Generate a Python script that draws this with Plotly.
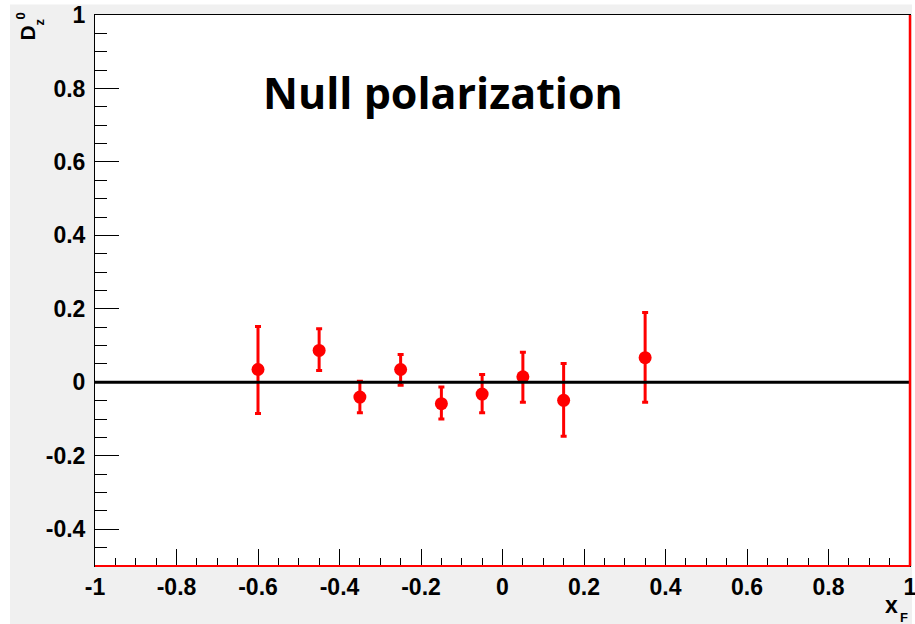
import plotly.graph_objects as go

# Data
xf = [-0.6, -0.45, -0.35, -0.25, -0.15, -0.05, 0.05, 0.15, 0.35]
dz0 = [0.035, 0.087, -0.040, 0.035, -0.058, -0.032, 0.015, -0.049, 0.067]
err_up = [0.117, 0.059, 0.043, 0.041, 0.045, 0.053, 0.067, 0.100, 0.123]
err_down = [0.120, 0.055, 0.043, 0.043, 0.042, 0.051, 0.069, 0.098, 0.121]

x_tickvals = [-1, -0.8, -0.6, -0.4, -0.2, 0, 0.2, 0.4, 0.6, 0.8, 1]
x_ticktext = ["-1", "-0.8", "-0.6", "-0.4", "-0.2", "0", "0.2", "0.4", "0.6", "0.8", "1"]
y_tickvals = [-0.4, -0.2, 0, 0.2, 0.4, 0.6, 0.8, 1]
y_ticktext = ["-0.4", "-0.2", "0", "0.2", "0.4", "0.6", "0.8", "1"]

RED = "#ff0000"
GRAY = "#f0f0f0"
tick_font = dict(family="Liberation Sans", size=23, color="black", weight="bold")

PW, PH = 815, 551.5  # plot area size in px
L, T = 95, 14.5      # plot area origin


def px(xp):
    return (xp - L) / PW


def py(yp):
    return (T + PH - yp) / PH


fig = go.Figure()

fig.add_trace(go.Scatter(
    x=xf, y=dz0, mode="markers",
    marker=dict(color=RED, size=13, symbol="circle"),
    error_y=dict(type="data", symmetric=False, array=err_up, arrayminus=err_down,
                 color=RED, thickness=3, width=3),
    showlegend=False,
))

shapes = [
    dict(type="rect", xref="paper", yref="paper", x0=px(10), x1=px(912),
         y0=py(630), y1=py(4), fillcolor=GRAY, line=dict(width=0), layer="below"),
    dict(type="rect", xref="paper", yref="paper", x0=0, x1=1, y0=0, y1=1,
         fillcolor="white", line=dict(width=0), layer="below"),
    dict(type="line", xref="x", yref="y", x0=-1, x1=1, y0=0, y1=0,
         line=dict(color="black", width=3)),
    dict(type="line", xref="paper", yref="paper", x0=0, x1=1, y0=0, y1=0,
         line=dict(color=RED, width=2)),
    dict(type="line", xref="paper", yref="paper", x0=1, x1=1, y0=0, y1=1,
         line=dict(color=RED, width=2.5)),
]


def ann(text, xp, yp, size, family="Liberation Sans", angle=0):
    return dict(text=text, xref="paper", yref="paper", x=px(xp), y=py(yp),
                xanchor="center", yanchor="middle", showarrow=False, textangle=angle,
                font=dict(family=family, size=size, color="black"))


annotations = [
    ann("<b>Null polarization</b>", 443, 92, 43, family="Open Sans"),
    ann("<b>D</b>", 27, 33, 21, angle=-90),
    ann("<b>0</b>", 20, 16, 13, angle=-90),
    ann("<b>z</b>", 39, 21, 13, angle=-90),
    ann("<b>x</b>", 891, 605, 23),
    ann("<b>F</b>", 904, 618, 13),
]

fig.update_layout(
    width=915, height=624,
    margin=dict(l=L, r=915 - L - PW, t=T, b=624 - T - PH, autoexpand=False),
    paper_bgcolor="white",
    plot_bgcolor="rgba(0,0,0,0)",
    shapes=shapes,
    annotations=annotations,
)

fig.update_xaxes(
    range=[-1, 1], tickmode="array", tickvals=x_tickvals, ticktext=x_ticktext,
    ticks="inside", ticklen=17, tickwidth=1, tickcolor="black",
    minor=dict(ticks="inside", ticklen=8, tickwidth=1, tickcolor="black", dtick=0.05, tick0=0, showgrid=False),
    showline=True, linecolor="black", linewidth=1, mirror=True, automargin=False,
    showgrid=False, zeroline=False, tickfont=tick_font, ticklabelstandoff=0,
    ticklabeloverflow="allow",
)
fig.update_yaxes(
    range=[-0.5, 1], tickmode="array", tickvals=y_tickvals, ticktext=y_ticktext,
    ticks="inside", ticklen=24, tickwidth=1, tickcolor="black",
    minor=dict(ticks="inside", ticklen=12, tickwidth=1, tickcolor="black", dtick=0.05, tick0=0, showgrid=False),
    showline=True, linecolor="black", linewidth=1, mirror=True, automargin=False,
    showgrid=False, zeroline=False, tickfont=tick_font, ticklabelstandoff=4,
    ticklabeloverflow="allow",
)

fig.write_html("out.html", config={"displayModeBar": False},
               post_script="document.body.style.margin='0';")
